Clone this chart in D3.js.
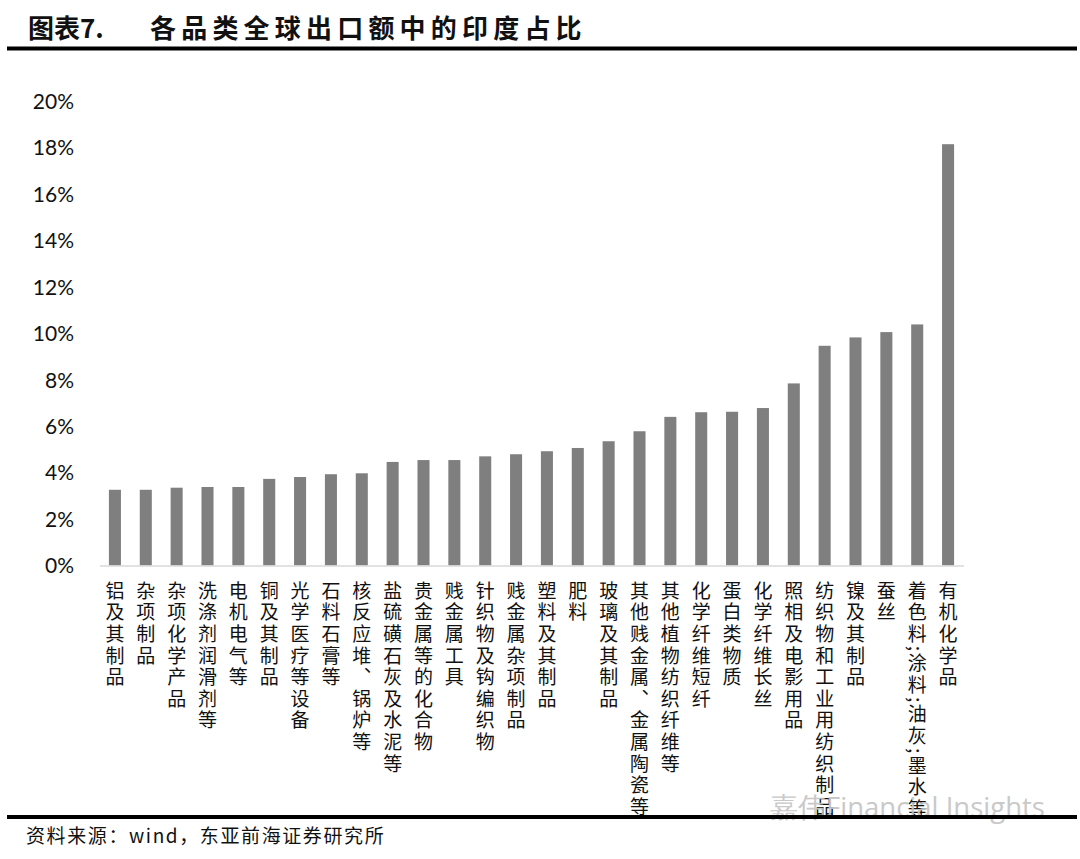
<!DOCTYPE html>
<html><head><meta charset="utf-8">
<script src="https://cdn.jsdelivr.net/npm/d3@7"></script>
<style>body{margin:0;background:#fff;} svg{display:block;}</style>
</head><body>
<svg id="chart" width="1080" height="859"></svg>
<script>
const categories = ["铝及其制品","杂项制品","杂项化学产品","洗涤剂润滑剂等","电机电气等","铜及其制品","光学医疗等设备","石料石膏等","核反应堆、锅炉等","盐硫磺石灰及水泥等","贵金属等的化合物","贱金属工具","针织物及钩编织物","贱金属杂项制品","塑料及其制品","肥料","玻璃及其制品","其他贱金属、金属陶瓷等","其他植物纺织纤维等","化学纤维短纤","蛋白类物质","化学纤维长丝","照相及电影用品","纺织物和工业用纺织制品","镍及其制品","蚕丝","着色料;涂料;油灰;墨水等","有机化学品"];
const values = [3.26,3.26,3.35,3.38,3.38,3.73,3.81,3.93,3.97,4.46,4.54,4.54,4.70,4.79,4.92,5.06,5.35,5.78,6.40,6.60,6.62,6.78,7.84,9.46,9.82,10.05,10.38,18.14];
const yTicks = [0,2,4,6,8,10,12,14,16,18,20];
const titleLeft = "图表7.";
const titleRight = "各品类全球出口额中的印度占比";
const source = "资料来源：wind，东亚前海证券研究所";
const watermark = "嘉伟Financial Insights";

const svg = d3.select("#chart");
const cjk = "'Noto Sans CJK SC','Noto Sans',sans-serif";

// title
svg.append("text").attr("x",28).attr("y",38).attr("font-family",cjk).attr("font-weight",700)
  .attr("font-size",26).attr("fill","#111").text(titleLeft);
svg.append("text").attr("x",150).attr("y",38).attr("font-family",cjk).attr("font-weight",700)
  .attr("font-size",26).attr("letter-spacing",5.2).attr("fill","#111").text(titleRight);
svg.append("rect").attr("x",7).attr("y",46.5).attr("width",1070).attr("height",4).attr("fill","#000");

// scales
const x = d3.scaleBand().domain(categories).range([99.5,963.5]).paddingInner(0.61).paddingOuter(0.305);
const y = d3.scaleLinear().domain([0,20]).range([565.5,101]);

// y axis labels
const yAxis = d3.axisLeft(y).tickValues(yTicks).tickFormat(d=>d+"%").tickSize(0).tickPadding(0);
const gy = svg.append("g").attr("transform","translate(74,0)").call(yAxis);
gy.select(".domain").remove();
gy.selectAll("text").attr("font-family","Lato,'Open Sans',sans-serif").attr("font-size",21).attr("fill","#111").attr("dy","0.35em");

// bars
svg.append("g").selectAll("rect").data(values).join("rect")
  .attr("x",(d,i)=>x(categories[i])).attr("width",x.bandwidth())
  .attr("y",d=>y(d)).attr("height",d=>y(0)-y(d)).attr("fill","#7f7f7f");

// x axis
const xAxis = d3.axisBottom(x).tickSize(0).tickFormat("");
const gx = svg.append("g").attr("transform",`translate(0,${y(0)})`).call(xAxis);
gx.select(".domain").attr("stroke","#d9d9d9").attr("stroke-width",1.5);

// vertical category labels
svg.append("g").selectAll("text").data(categories).join("text")
  .attr("x",d=>x(d)+x.bandwidth()/2).attr("y",581)
  .attr("font-family",cjk).attr("font-size",19).attr("fill","#111")
  .attr("letter-spacing",2.6)
  .style("writing-mode","vertical-rl").style("text-orientation","mixed")
  .text(d=>d);

// watermark
svg.append("text").attr("x",770).attr("y",817).attr("font-family","'Open Sans',sans-serif")
  .attr("font-size",27.5).attr("fill","#c4c4c4").attr("opacity",0.9).text(watermark);

// bottom rule and source
svg.append("rect").attr("x",7).attr("y",815).attr("width",1070).attr("height",4).attr("fill","#000");
svg.append("text").attr("x",26).attr("y",843).attr("font-family",cjk).attr("font-size",19)
  .attr("letter-spacing",1.6).attr("fill","#111").text(source);
</script>
</body></html>
